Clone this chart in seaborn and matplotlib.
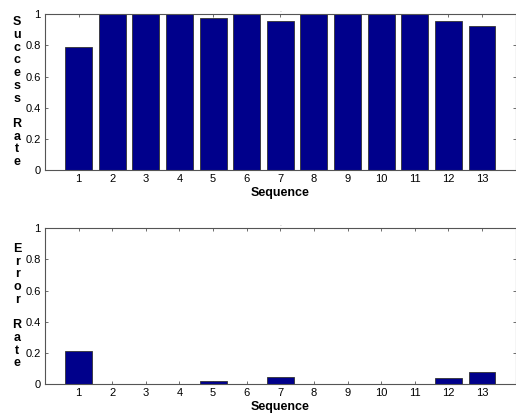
import pandas as pd
import numpy as np
import matplotlib
matplotlib.use("Agg")
import matplotlib.pyplot as plt
import seaborn as sns

sequence = list(range(1, 14))
success_rate = [0.79, 1.0, 1.0, 1.0, 0.978, 1.0, 0.955, 1.0, 1.0, 1.0, 1.0, 0.959, 0.923]
error_rate = [0.21, 0.0, 0.0, 0.0, 0.022, 0.0, 0.045, 0.0, 0.0, 0.0, 0.0, 0.041, 0.077]

sns.set_theme(style="white")
plt.rcParams['font.family'] = ['Liberation Sans', 'DejaVu Sans']
plt.rcParams['text.color'] = 'black'
plt.rcParams['axes.labelcolor'] = 'black'
plt.rcParams['xtick.labelcolor'] = 'black'
plt.rcParams['ytick.labelcolor'] = 'black'

df = pd.DataFrame({"Sequence": sequence, "Success": success_rate, "Error": error_rate})

fig = plt.figure(figsize=(5.16, 4.13), dpi=100)
ax1 = fig.add_axes([0.0872, 0.5884, 0.912, 0.377])
ax2 = fig.add_axes([0.0872, 0.0702, 0.912, 0.377])

for ax, col, label in [(ax1, "Success", "Success Rate"), (ax2, "Error", "Error Rate")]:
    sns.barplot(data=df, x="Sequence", y=col, native_scale=True, color="#00008b",
                saturation=1, width=0.8, edgecolor="#333333", linewidth=0.6, ax=ax)
    ax.set_xlim(0, 14)
    ax.set_ylim(0, 1)
    ax.set_xticks(sequence)
    ax.set_xticklabels([str(s) for s in sequence], fontsize=8)
    ax.set_yticks([0, 0.2, 0.4, 0.6, 0.8, 1])
    ax.set_yticklabels(["0", "0.2", "0.4", "0.6", "0.8", "1"], fontsize=8)
    ax.tick_params(direction="in", length=2.5, width=0.6, color="#555555",
                   top=True, right=True, bottom=True, left=True, pad=3)
    for s in ax.spines.values():
        s.set_color("#555555")
        s.set_linewidth(0.8)
    ax.set_xlabel("Sequence", fontsize=9, fontweight="bold", labelpad=2)
    ax.set_ylabel("\n".join(label), rotation=0, fontsize=9, fontweight="bold",
                  linespacing=1.08, va="center", labelpad=6)
    ax.set_title(".", fontsize=5, color="#999999", pad=2)

fig.savefig("out.png", dpi=100)
